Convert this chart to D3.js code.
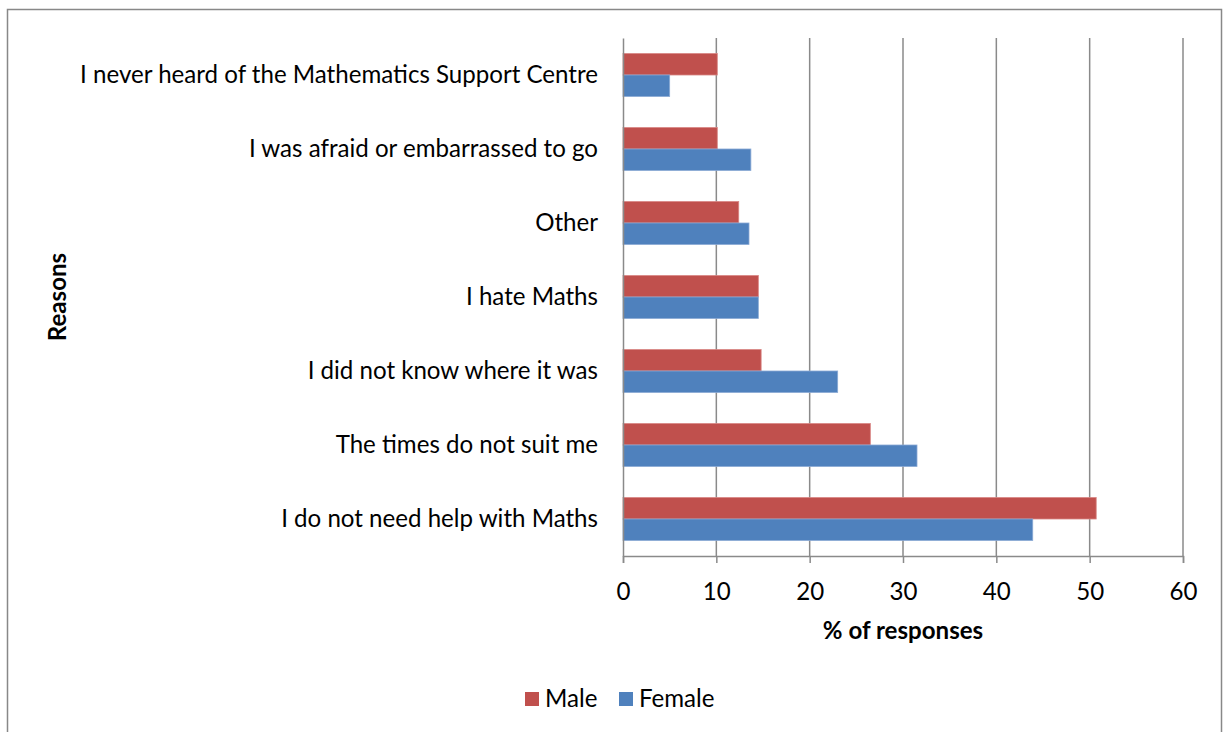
<!DOCTYPE html>
<html>
<head>
<meta charset="utf-8">
<script src="https://cdn.jsdelivr.net/npm/d3@7"></script>
<style>
  html, body { margin: 0; padding: 0; background: #fff; }
  svg { display: block; font-family: Lato, "Open Sans", sans-serif; }
</style>
</head>
<body>
<svg id="chart" width="1223" height="732"></svg>
<script>
// Reasons for not using the Mathematics Support Centre, by gender
const reasons = [
  "I never heard of the Mathematics Support Centre",
  "I was afraid or embarrassed to go",
  "Other",
  "I hate Maths",
  "I did not know where it was",
  "The times do not suit me",
  "I do not need help with Maths"
];
const maleValues   = [10.1, 10.1, 12.4, 14.5, 14.8, 26.5, 50.7];
const femaleValues = [5.0, 13.7, 13.5, 14.5, 23.0, 31.5, 43.9];
const seriesNames  = ["Male", "Female"];
const seriesColors = ["#C0504D", "#4F81BD"];
const xTicks = [0, 10, 20, 30, 40, 50, 60];

const svg = d3.select("#chart");
const plot = { left: 623, right: 1183, top: 38, bottom: 556 };

// pick a font size so the longest category label spans about 518px
const probe = svg.append("text").attr("font-size", 20).text(reasons[0]);
const probeWidth = probe.node().getComputedTextLength();
probe.remove();
const fs = Math.round(20 * 518 / probeWidth * 10) / 10;

// chart frame
svg.append("rect")
  .attr("x", 7.5).attr("y", 9.5)
  .attr("width", 1214).attr("height", 740)
  .attr("fill", "#fff").attr("stroke", "#888").attr("stroke-width", 1.5);

const x = d3.scaleLinear().domain([0, 60]).range([plot.left, plot.right]);
const y = d3.scaleBand().domain(reasons).range([plot.top, plot.bottom]).paddingInner(0.42).paddingOuter(0.21);
const ySub = d3.scaleBand().domain(seriesNames).range([0, y.bandwidth()]);

// vertical gridlines
svg.append("g")
  .selectAll("line")
  .data(xTicks.slice(1))
  .join("line")
  .attr("x1", d => x(d)).attr("x2", d => x(d))
  .attr("y1", plot.top).attr("y2", plot.bottom)
  .attr("stroke", "#8a8a8a").attr("stroke-width", 1.5);

// bars
const rows = reasons.map((r, i) => ({ reason: r, values: [maleValues[i], femaleValues[i]] }));
const groups = svg.append("g")
  .selectAll("g")
  .data(rows)
  .join("g")
  .attr("transform", d => `translate(0,${y(d.reason)})`);

groups.selectAll("rect")
  .data(d => d.values.map((v, k) => ({ name: seriesNames[k], value: v, k })))
  .join("rect")
  .attr("x", x(0))
  .attr("y", d => ySub(d.name))
  .attr("width", d => x(d.value) - x(0))
  .attr("height", ySub.bandwidth())
  .attr("fill", d => seriesColors[d.k])
  .attr("stroke", d => d.k === 0 ? "#d88583" : "#89a9d4")
  .attr("stroke-width", 0.8);

// x axis
const xAxis = svg.append("g")
  .attr("transform", `translate(0,${plot.bottom})`)
  .call(d3.axisBottom(x).tickValues(xTicks).tickSize(7).tickPadding(20));
xAxis.select(".domain").attr("stroke", "#8a8a8a").attr("stroke-width", 1.5);
xAxis.selectAll(".tick line").attr("stroke", "#8a8a8a").attr("stroke-width", 1.5);
xAxis.selectAll("text")
  .attr("font-size", fs).attr("fill", "#000")
  .attr("font-family", "Lato, sans-serif");

// y axis
const yAxis = svg.append("g")
  .attr("transform", `translate(${plot.left},0)`)
  .call(d3.axisLeft(y).tickSize(0).tickPadding(25));
yAxis.select(".domain").attr("stroke", "#8a8a8a").attr("stroke-width", 1.5);
yAxis.selectAll("text")
  .attr("font-size", fs).attr("fill", "#000")
  .attr("font-family", "Lato, sans-serif");

// axis titles
svg.append("text")
  .attr("x", (plot.left + plot.right) / 2).attr("y", 639)
  .attr("text-anchor", "middle")
  .attr("font-size", fs).attr("font-weight", "bold")
  .text("% of responses");

svg.append("text")
  .attr("transform", `translate(66,${(plot.top + plot.bottom) / 2}) rotate(-90)`)
  .attr("text-anchor", "middle")
  .attr("font-size", fs).attr("font-weight", "bold")
  .text("Reasons");

// legend
const legend = svg.append("g").attr("transform", "translate(525,699)");
const legendOffsets = [0, 94];
seriesNames.forEach((name, k) => {
  const g = legend.append("g").attr("transform", `translate(${legendOffsets[k]},0)`);
  g.append("rect").attr("x", 0).attr("y", -7).attr("width", 14).attr("height", 14).attr("fill", seriesColors[k]);
  g.append("text").attr("x", 20).attr("y", 0).attr("dy", "0.35em")
    .attr("font-size", fs).text(name);
});
</script>
</body>
</html>
